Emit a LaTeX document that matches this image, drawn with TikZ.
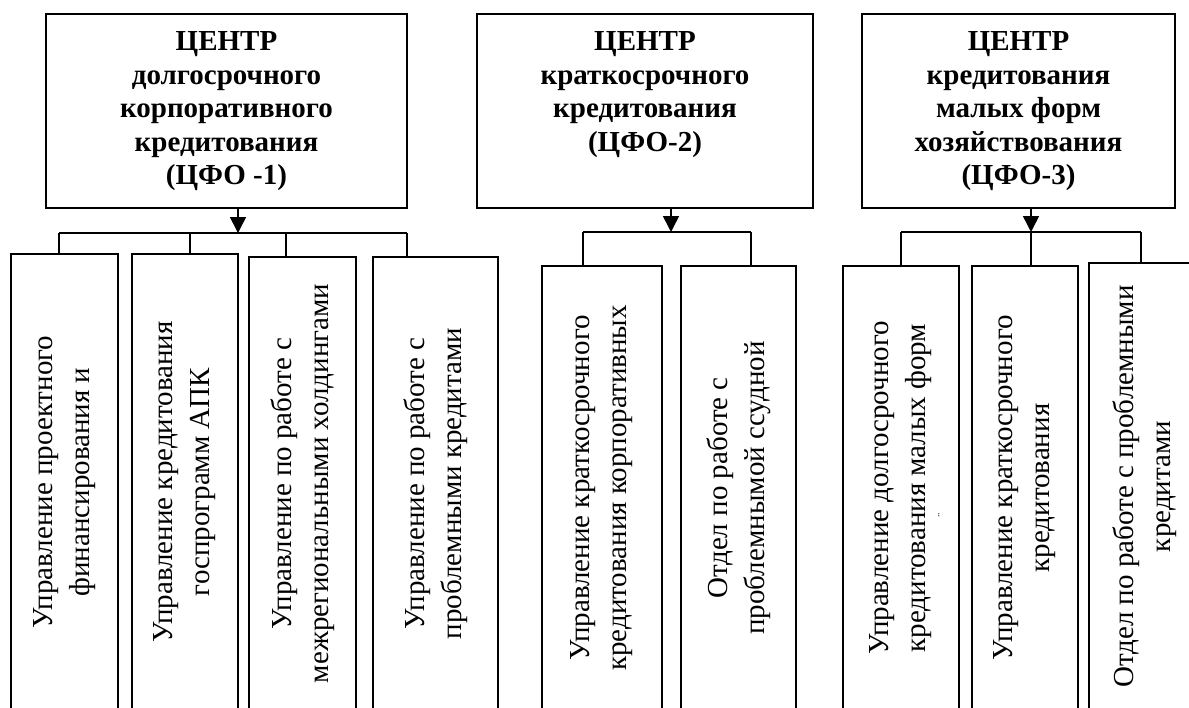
\documentclass[tikz,border=0pt]{standalone}
\usepackage{fontspec}
\setmainfont{Liberation Serif}
\usetikzlibrary{arrows.meta}

\begin{document}
\begin{tikzpicture}[x=1pt, y=-1pt, line width=1.6pt,
    head/.style={draw, inner sep=0pt, minimum height=194pt},
    title/.style={anchor=north, align=center, inner sep=0pt, font=\bfseries\fontsize{29}{33.5}\selectfont},
    unit/.style={draw, rotate=90, align=center, inner sep=0pt, font=\fontsize{29}{37}\selectfont},
    arr/.style={-{Triangle[width=16pt,length=16pt]}}]
    \useasboundingbox (0,0) rectangle (1189,707);
    % centres
    \node[head, minimum width=361pt] (c1) at (226.5,111) {};
    \node[head, minimum width=336pt] (c2) at (645,111) {};
    \node[head, minimum width=313pt] (c3) at (1018.5,111) {};
    \node[title] (t1) at ([yshift=-18pt]c1.north) {ЦЕНТР\\долгосрочного\\корпоративного\\кредитования\\(ЦФО -1)};
    \node[title] (t2) at ([yshift=-18pt]c2.north) {ЦЕНТР\\краткосрочного\\кредитования\\(ЦФО-2)};
    \node[title] (t3) at ([yshift=-18pt]c3.north) {ЦЕНТР\\кредитования\\малых форм\\хозяйствования\\(ЦФО-3)};
    % units
    \node[unit, minimum width=456pt, minimum height=107pt] (u11) at (64.5,482) {Управление проектного\\финансирования и};
    \node[unit, minimum width=456pt, minimum height=106pt] (u12) at (185,482) {Управление кредитования\\госпрограмм АПК};
    \node[unit, minimum width=453pt, minimum height=107pt] (u13) at (302.5,483.5) {Управление по работе с\\межрегиональными холдингами};
    \node[unit, minimum width=453pt, minimum height=125pt] (u14) at (435.5,483.5) {Управление по работе с\\проблемными кредитами};
    \node[unit, minimum width=444pt, minimum height=120pt] (u21) at (602,488) {Управление краткосрочного\\кредитования корпоративных};
    \node[unit, minimum width=444pt, minimum height=115pt] (u22) at (738.5,488) {Отдел по работе с\\проблемнымой ссудной};
    \node[unit, minimum width=444pt, minimum height=116pt] (u31) at (901,488) {Управление долгосрочного\\кредитования малых форм};
    \node[unit, minimum width=444pt, minimum height=106pt] (u32) at (1025,488) {Управление краткосрочного\\кредитования};
    \node[unit, minimum width=447pt, minimum height=112pt] (u33) at (1145,486.5) {Отдел по работе с проблемными\\кредитами};
    \node[rotate=90, inner sep=0pt, font=\fontsize{10}{10}\selectfont] (dots) at (939,515) {..};
    % links
    \coordinate (j1) at (238,233);
    \coordinate (j2) at (671,232);
    \coordinate (j3) at (1031,232);
    \draw[arr] (c1.south -| j1) -- (j1);
    \draw[arr] (c2.south -| j2) -- (j2);
    \draw[arr] (c3.south -| j3) -- (j3);
    \draw (59,233) -- (407,233);
    \draw (583,232) -- (751,232);
    \draw (901,232) -- (1141,232);
    \foreach \x/\n in {59/u11, 190/u12, 286/u13, 407/u14}
        \draw (\x,233) -- (\x,233 |- \n.east);
    \foreach \x/\n in {583/u21, 751/u22, 901/u31, 1031/u32, 1141/u33}
        \draw (\x,232) -- (\x,232 |- \n.east);
\end{tikzpicture}
\end{document}
